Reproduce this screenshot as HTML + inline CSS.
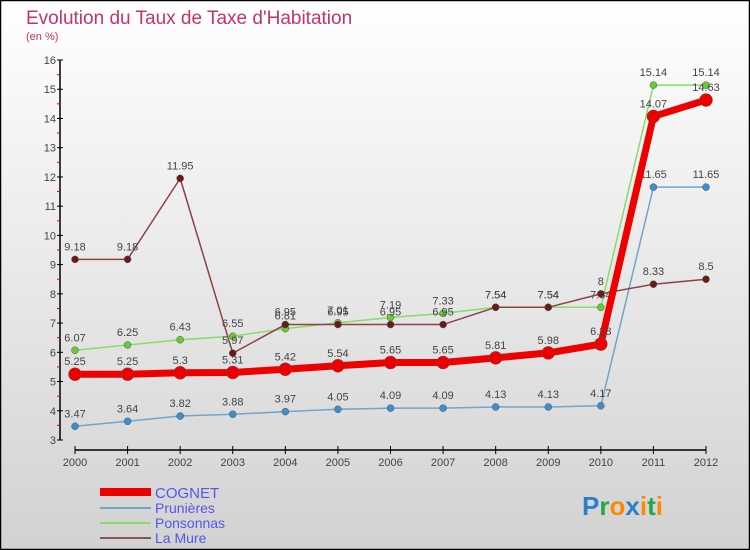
<!DOCTYPE html>
<html><head><meta charset="utf-8"><style>
body{margin:0;width:750px;height:550px;overflow:hidden;font-family:"Liberation Sans",sans-serif}
svg{display:block}
</style></head><body>
<svg id="chart" width="750" height="550" xmlns="http://www.w3.org/2000/svg">
<defs><linearGradient id="bg" x1="0" y1="0" x2="0" y2="1"><stop offset="0" stop-color="#ffffff"/><stop offset="1" stop-color="#d2d2d2"/></linearGradient></defs>
<rect x="0.5" y="0.5" width="749" height="549" fill="url(#bg)" stroke="#000" stroke-width="1.5"/>
<text x="26" y="24" font-size="19" fill="#c8326a">Evolution du Taux de Taxe d'Habitation</text>
<text x="26" y="40" font-size="11" fill="#c8326a">(en %)</text>
<g id="axes"></g>
<g id="series"></g>
<g>
<rect x="100" y="488" width="51" height="8" fill="#e00"/>
<text x="155" y="498" font-size="15" fill="#5555ee">COGNET</text>
<rect x="100" y="507" width="51" height="2" fill="#6fa5cf"/>
<text x="155" y="513" font-size="14" fill="#5555ee">Prunières</text>
<rect x="100" y="522" width="51" height="2" fill="#88dd66"/>
<text x="155" y="528" font-size="14" fill="#5555ee">Ponsonnas</text>
<rect x="100" y="537" width="51" height="2" fill="#8a5555"/>
<text x="155" y="543" font-size="14" fill="#5555ee">La Mure</text>
</g>
<g font-size="26" font-weight="bold" font-family="Liberation Sans,sans-serif">
<text x="582" y="515"><tspan fill="#2a7fd0">P</tspan><tspan fill="#22aa44">r</tspan><tspan fill="#ff8800">o</tspan><tspan fill="#2a7fd0">x</tspan><tspan fill="#ff8800">i</tspan><tspan fill="#22aa44">t</tspan><tspan fill="#ff8800">i</tspan></text>
</g>
</svg>
<script>
const years=["2000","2001","2002","2003","2004","2005","2006","2007","2008","2009","2010","2011","2012"];
const yTicks=[3,4,5,6,7,8,9,10,11,12,13,14,15,16];
const cognet=[5.25,5.25,5.3,5.31,5.42,5.54,5.65,5.65,5.81,5.98,6.28,14.07,14.63];
const prunieres=[3.47,3.64,3.82,3.88,3.97,4.05,4.09,4.09,4.13,4.13,4.17,11.65,11.65];
const ponsonnas=[6.07,6.25,6.43,6.55,6.81,7.01,7.19,7.33,7.54,7.54,7.54,15.14,15.14];
const laMure=[9.18,9.18,11.95,5.97,6.95,6.95,6.95,6.95,7.54,7.54,8,8.33,8.5];
const NS="http://www.w3.org/2000/svg";
const x=i=>75+i*(706-75)/12;
const y=v=>440-(v-3)*(380/13);
function mk(tag,attrs,parent,txt){const e=document.createElementNS(NS,tag);for(const k in attrs)e.setAttribute(k,attrs[k]);if(txt!=null)e.textContent=txt;parent.appendChild(e);return e;}
const axes=document.getElementById('axes');
const ya=mk('line',{x1:60,y1:y(16),x2:60,y2:y(3),stroke:'#000','stroke-width':1.5},axes);


yTicks.forEach(t=>{
 mk('line',{x1:57,y1:y(t),x2:63,y2:y(t),stroke:'#000'},axes);
 if(t<16) mk('line',{x1:57,y1:y(t+0.5),x2:60,y2:y(t+0.5),stroke:'#e00'},axes);
 const l=mk('text',{x:56,y:y(t)+4,'font-size':11,fill:'#444','text-anchor':'end'},axes,t);
 
 
});
const xa=mk('line',{x1:x(0),y1:450,x2:x(12),y2:450,stroke:'#000','stroke-width':1.5},axes);


years.forEach((yr,i)=>{
 mk('line',{x1:x(i),y1:446,x2:x(i),y2:454,stroke:'#000'},axes);
 const l=mk('text',{x:x(i),y:466,'font-size':11,fill:'#444','text-anchor':'middle'},axes,yr);
 
 
});
const sg=document.getElementById('series');
function series(name,vals,color,w,r,dot){
 const g=mk('g',{},sg);
 
 
 mk('polyline',{points:vals.map((v,i)=>x(i)+','+y(v)).join(' '),fill:'none',stroke:color,'stroke-width':w,'stroke-linejoin':'round'},g);
 vals.forEach((v,i)=>{
  const c=mk('circle',{cx:x(i),cy:y(v),r:r,fill:dot,stroke:'#555','stroke-width':0.5},g);
  
  
  const t=mk('text',{x:x(i),y:y(v)-9,'font-size':11,fill:'#444','text-anchor':'middle'},g,v);
  
  
 });
}
series('prunieres',prunieres,'#6fa5cf',1.5,3.5,'#3d8fcc');
series('ponsonnas',ponsonnas,'#88dd66',1.5,3.5,'#66cc33');
series('la-mure',laMure,'#8a4444',1.5,3.5,'#6b1a1a');
series('cognet',cognet,'#ee0000',7,6.5,'#ee0000');
</script>
</body></html>
